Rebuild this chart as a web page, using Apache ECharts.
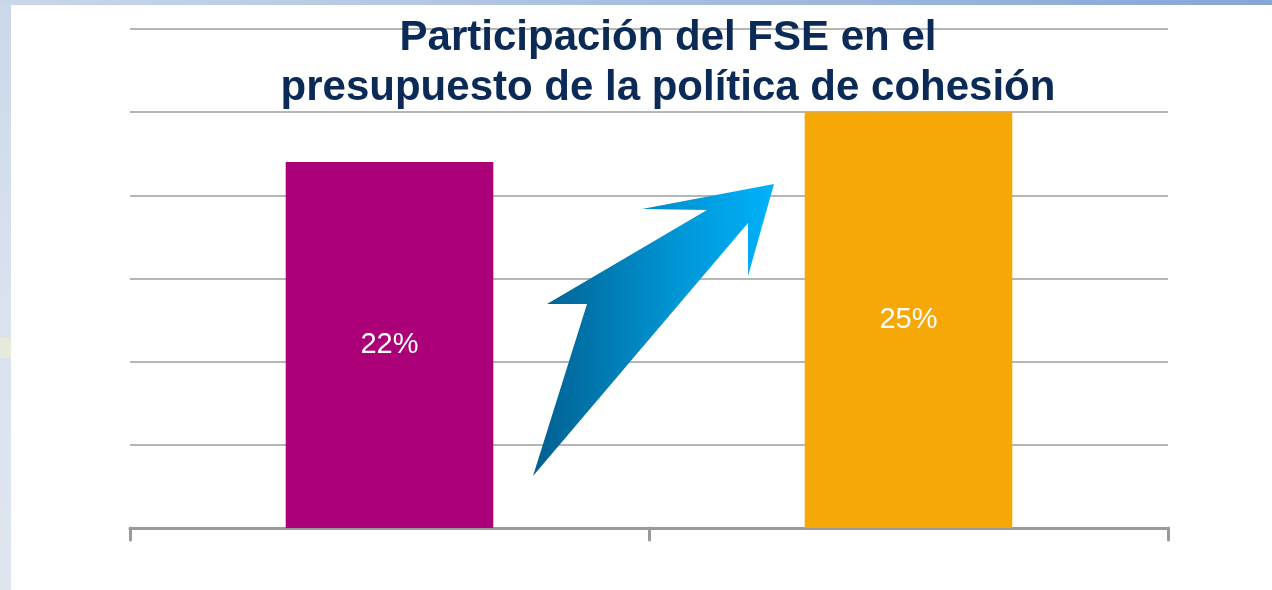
<!DOCTYPE html>
<html>
<head>
<meta charset="utf-8">
<script src="https://cdn.jsdelivr.net/npm/echarts@6/dist/echarts.min.js"></script>
<style>
  html, body { margin: 0; padding: 0; background: #ffffff; }
  #main { width: 1272px; height: 590px; }
</style>
</head>
<body>
<div id="main"></div>
<script>
let titleText = 'Participación del FSE en el\npresupuesto de la política de cohesión';
let categories = ['2007-2013', '2014-2020'];
let shares = [22, 25];
let barColors = ['#ab0077', '#f5a806'];

let chartDom = document.getElementById('main');
let myChart = echarts.init(chartDom);
let option;

option = {
  animation: false,
  backgroundColor: '#ffffff',
  title: {
    text: titleText,
    left: 663,
    top: 8,
    textAlign: 'center',
    z: 20,
    textStyle: {
      color: '#0b2b56',
      fontFamily: 'Liberation Sans, Arial, sans-serif',
      fontWeight: 'bold',
      fontSize: 42,
      lineHeight: 50
    }
  },
  grid: {
    left: 130,
    right: 104,
    top: 29,
    bottom: 62
  },
  xAxis: {
    type: 'category',
    data: categories,
    axisLine: { lineStyle: { color: '#9a9a9a', width: 3 } },
    axisTick: { show: true, length: 12, lineStyle: { color: '#9a9a9a', width: 3, cap: 'round' } },
    axisLabel: { show: false }
  },
  yAxis: {
    type: 'value',
    min: 0,
    max: 30,
    interval: 5,
    axisLabel: { show: false },
    axisLine: { show: false },
    axisTick: { show: false },
    splitLine: { lineStyle: { color: '#b6b6b6', width: 2 } }
  },
  graphic: [
    {
      type: 'rect',
      z: -10,
      silent: true,
      shape: { x: 0, y: 0, width: 11, height: 590 },
      style: {
        fill: new echarts.graphic.LinearGradient(0, 0, 0, 1, [
          { offset: 0, color: '#cbd8ea' },
          { offset: 0.5, color: '#d9e2ef' },
          { offset: 1, color: '#dfe6f0' }
        ])
      }
    },
    {
      type: 'rect',
      z: -10,
      silent: true,
      shape: { x: 0, y: 0, width: 1272, height: 5 },
      style: {
        fill: new echarts.graphic.LinearGradient(0, 0, 1, 0, [
          { offset: 0, color: '#cad7ea' },
          { offset: 1, color: '#86a6d6' }
        ])
      }
    },
    {
      type: 'rect',
      z: -9,
      silent: true,
      shape: { x: 0, y: 338, width: 11, height: 20 },
      style: { fill: '#e8ecd6', opacity: 0.8 }
    },
    {
      type: 'polygon',
      z: 10,
      silent: true,
      shape: {
        points: [
          [533, 476], [587, 304], [547, 304], [707, 210], [642, 209],
          [774, 184], [748, 276], [748, 223]
        ]
      },
      style: {
        fill: new echarts.graphic.LinearGradient(0, 0, 1, 0, [
          { offset: 0, color: '#005f8e' },
          { offset: 0.6, color: '#0096d6' },
          { offset: 1, color: '#00b2fb' }
        ])
      }
    }
  ],
  series: [
    {
      type: 'bar',
      barWidth: '40%',
      data: shares.map(function (v, i) {
        return { value: v, itemStyle: { color: barColors[i] } };
      }),
      label: {
        show: true,
        position: 'inside',
        formatter: '{c}%',
        color: '#ffffff',
        fontFamily: 'Liberation Sans, Arial, sans-serif',
        fontSize: 29
      }
    }
  ]
};

myChart.setOption(option);
</script>
</body>
</html>
